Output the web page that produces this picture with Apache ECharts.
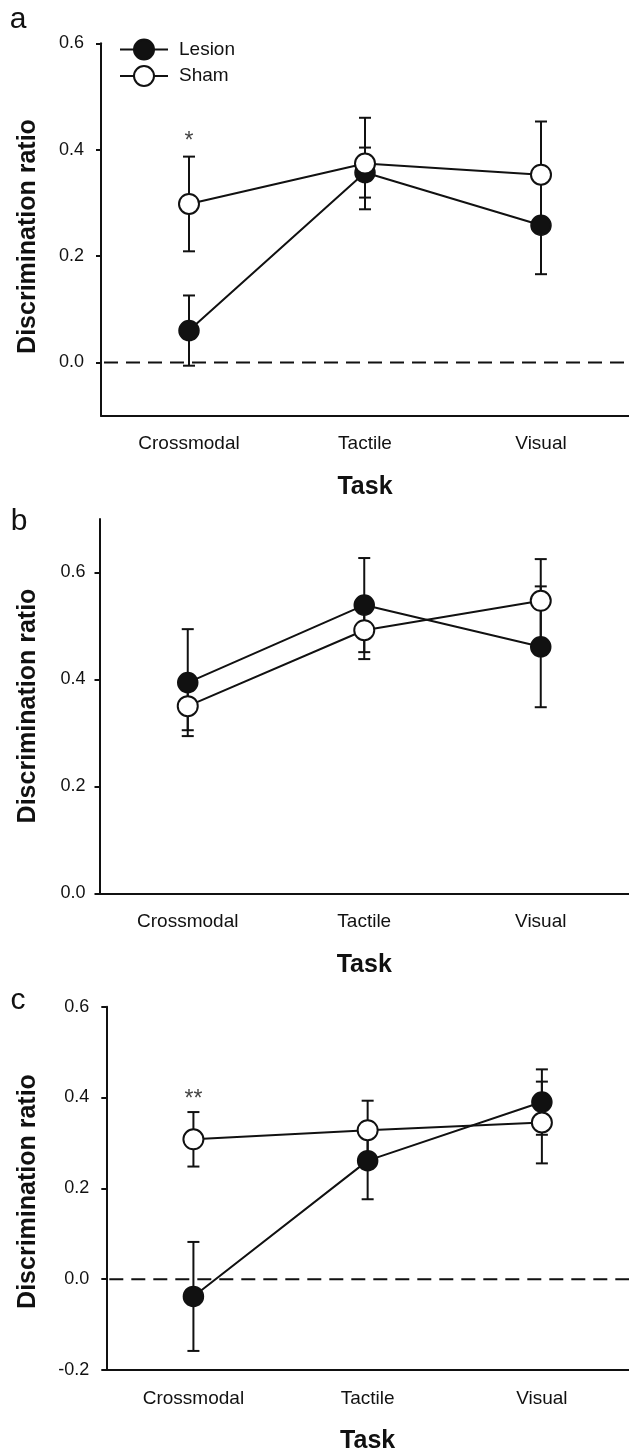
<!DOCTYPE html>
<html>
<head>
<meta charset="utf-8">
<script src="https://cdn.jsdelivr.net/npm/echarts@6/dist/echarts.min.js"></script>
<style>
html,body{margin:0;padding:0;background:#fff;}
#chart{width:629px;height:1455px;}
</style>
</head>
<body>
<div id="chart"></div>
<script>
var categories = ['Crossmodal', 'Tactile', 'Visual'];
var seriesNames = ['Lesion', 'Sham'];

// Panel a
var aLesion = [0.060, 0.357, 0.258];
var aLesionSem = [0.066, 0.047, 0.092];
var aSham = [0.298, 0.374, 0.353];
var aShamSem = [0.089, 0.086, 0.100];
// Panel b
var bLesion = [0.394, 0.539, 0.461];
var bLesionSem = [0.100, 0.088, 0.113];
var bSham = [0.350, 0.492, 0.547];
var bShamSem = [0.045, 0.054, 0.078];
// Panel c
var cLesion = [-0.038, 0.261, 0.390];
var cLesionSem = [0.120, 0.085, 0.072];
var cSham = [0.308, 0.328, 0.345];
var cShamSem = [0.060, 0.065, 0.090];

var panelLetters = ['a', 'b', 'c'];
var yTicksA = [0.0, 0.2, 0.4, 0.6];
var yTicksB = [0.0, 0.2, 0.4, 0.6];
var yTicksC = [-0.2, 0.0, 0.2, 0.4, 0.6];
var yRanges = [[-0.1, 0.6], [0, 0.7], [-0.2, 0.6]];
var referenceLevel = 0;
var significance = [{panel: 0, cat: 0, value: 0.416, text: '*'}, {panel: 2, cat: 0, value: 0.396, text: '**'}];

var FONT = '"Liberation Sans", Arial, Helvetica, sans-serif';
var INK = '#111';

var grids = [
  {left: 101, top: 43.3, width: 532, height: 372.4},
  {left: 99.5, top: 519, width: 535.5, height: 374.3},
  {left: 106.3, top: 1006.7, width: 529.5, height: 370}
];
var labelMargins = [17, 14, 17];
var yTickSets = [yTicksA, yTicksB, yTicksC];

var panels = [
  {lesion: aLesion, lesionSem: aLesionSem, sham: aSham, shamSem: aShamSem, zeroLine: true},
  {lesion: bLesion, lesionSem: bLesionSem, sham: bSham, shamSem: bShamSem, zeroLine: false},
  {lesion: cLesion, lesionSem: cLesionSem, sham: cSham, shamSem: cShamSem, zeroLine: true}
];

function errData(mean, sem) {
  return mean.map(function (m, i) { return [i, m - sem[i], m + sem[i]]; });
}

function errorRender(params, api) {
  var x = api.value(0);
  var lo = api.coord([x, api.value(1)]);
  var hi = api.coord([x, api.value(2)]);
  var cap = 6;
  var style = {stroke: INK, lineWidth: 2, fill: null};
  return {
    type: 'group',
    children: [
      {type: 'line', shape: {x1: lo[0], y1: lo[1], x2: hi[0], y2: hi[1]}, style: style},
      {type: 'line', shape: {x1: lo[0] - cap, y1: lo[1], x2: lo[0] + cap, y2: lo[1]}, style: style},
      {type: 'line', shape: {x1: hi[0] - cap, y1: hi[1], x2: hi[0] + cap, y2: hi[1]}, style: style}
    ]
  };
}

function refLineRender(params, api) {
  var cs = params.coordSys;
  var y = api.coord([0, api.value(1)])[1];
  return {
    type: 'line',
    shape: {x1: cs.x + 3, y1: y, x2: cs.x + cs.width, y2: y},
    style: {stroke: INK, lineWidth: 2, lineDash: [14, 8], fill: null}
  };
}

var xAxes = [], yAxes = [], series = [];
panels.forEach(function (p, k) {
  xAxes.push({
    type: 'category', gridIndex: k, data: categories, boundaryGap: true,
    axisLine: {onZero: false, lineStyle: {color: INK, width: 2}},
    axisTick: {alignWithLabel: true, length: 6, lineStyle: {color: INK, width: 2}},
    axisLabel: {color: INK, fontSize: 19, fontFamily: FONT, margin: 19},
    splitLine: {show: false},
    name: 'Task', nameLocation: 'middle', nameGap: 59,
    nameTextStyle: {color: INK, fontSize: 25, fontWeight: 'bold', fontFamily: FONT}
  });
  yAxes.push({
    type: 'value', gridIndex: k, min: yRanges[k][0], max: yRanges[k][1],
    axisLine: {show: true, onZero: false, lineStyle: {color: INK, width: 2}},
    axisTick: {show: true, length: 5, customValues: yTickSets[k], lineStyle: {color: INK, width: 2}},
    axisLabel: {color: INK, fontSize: 18, fontFamily: FONT, margin: labelMargins[k],
      customValues: yTickSets[k],
      formatter: function (v) { return v.toFixed(1); }},
    splitLine: {show: false}
  });
  if (p.zeroLine) {
    series.push({
      type: 'custom', xAxisIndex: k, yAxisIndex: k, z: 0, silent: true,
      renderItem: refLineRender, data: [[0, referenceLevel]]
    });
  }
  series.push({
    type: 'custom', xAxisIndex: k, yAxisIndex: k, z: 1, silent: true,
    renderItem: errorRender, data: errData(p.lesion, p.lesionSem)
  });
  series.push({
    type: 'custom', xAxisIndex: k, yAxisIndex: k, z: 1, silent: true,
    renderItem: errorRender, data: errData(p.sham, p.shamSem)
  });
  series.push({
    name: seriesNames[0], type: 'line', xAxisIndex: k, yAxisIndex: k, z: 3,
    data: p.lesion, symbol: 'circle', symbolSize: 20, showAllSymbol: true,
    lineStyle: {color: INK, width: 2},
    itemStyle: {color: INK, borderColor: INK, borderWidth: 1.5},
    emphasis: {disabled: true}, animation: false
  });
  series.push({
    name: seriesNames[1], type: 'line', xAxisIndex: k, yAxisIndex: k, z: 4,
    data: p.sham, symbol: 'circle', symbolSize: 20, showAllSymbol: true,
    lineStyle: {color: INK, width: 2},
    itemStyle: {color: '#fff', borderColor: INK, borderWidth: 2},
    emphasis: {disabled: true}, animation: false
  });
});

significance.forEach(function (s) {
  series.push({
    type: 'scatter', xAxisIndex: s.panel, yAxisIndex: s.panel, z: 5, silent: true,
    symbolSize: 0, data: [[s.cat, s.value]],
    label: {show: true, position: 'inside', formatter: s.text, color: INK,
      fontSize: 23, fontFamily: FONT}
  });
});

var titleCenters = [236.5, 706, 1191.5];
var letterPos = [[18, 20], [19, 522], [18, 1001]];
var graphics = [];
titleCenters.forEach(function (cy, k) {
  graphics.push({
    type: 'text', x: 28, y: cy, rotation: Math.PI / 2,
    style: {text: 'Discrimination ratio', fontSize: 25, fontWeight: 'bold', fontFamily: FONT,
      fill: INK, align: 'center', verticalAlign: 'middle'}
  });
  graphics.push({
    type: 'text', x: letterPos[k][0], y: letterPos[k][1],
    style: {text: panelLetters[k], fontSize: 30, fontFamily: FONT, fill: INK,
      align: 'center', verticalAlign: 'middle'}
  });
});

var chart = echarts.init(document.getElementById('chart'), null, {renderer: 'canvas'});
chart.setOption({
  backgroundColor: '#fff',
  animation: false,
  grid: grids,
  xAxis: xAxes,
  yAxis: yAxes,
  series: series,
  graphic: graphics,
  legend: {
    data: seriesNames, orient: 'vertical', left: 119, top: 38.5, padding: 0,
    itemWidth: 48, itemHeight: 25, itemGap: 4.5,
    textStyle: {color: INK, fontSize: 19, fontFamily: FONT, padding: [0, 0, 0, 6]},
    selectedMode: false
  }
});
</script>
</body>
</html>
